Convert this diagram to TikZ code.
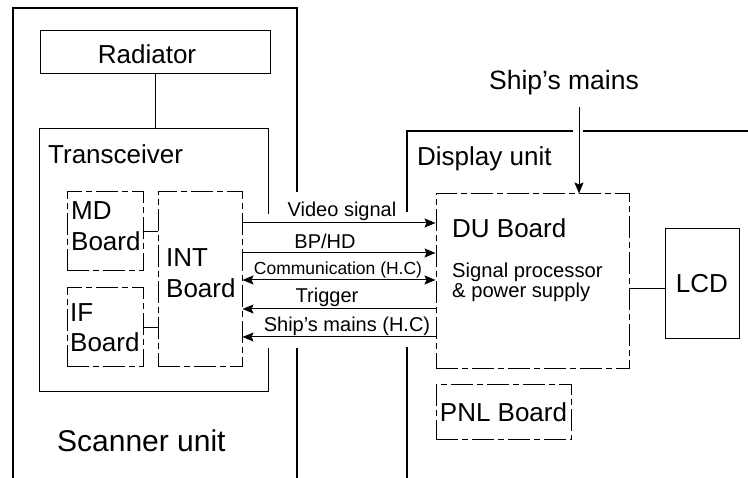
\documentclass[tikz,border=0pt]{standalone}
\usepackage{fontspec}
\setmainfont{Liberation Sans}
\usetikzlibrary{arrows.meta}
\begin{document}
\begin{tikzpicture}[x=1pt,y=-1pt,
  unitline/.style={line width=2.3pt},
  thinline/.style={line width=1pt},
  boxnode/.style={draw, line width=1pt, inner sep=0pt},
  boardnode/.style={draw, line width=1pt, inner sep=0pt, dash pattern=on 22pt off 4pt on 6pt off 4pt},
  sigline/.style={line width=1pt},
  >={Stealth[length=11pt,width=9pt,inset=2pt]},
  bigtxt/.style={font=\fontsize{26}{31}\selectfont, inner sep=0pt},
  scantxt/.style={font=\fontsize{30}{35}\selectfont, inner sep=0pt},
  mainstxt/.style={font=\fontsize{26.5}{31}\selectfont, inner sep=0pt},
  midtxt/.style={font=\fontsize{20}{24}\selectfont, inner sep=0pt},
  smalltxt/.style={font=\fontsize{17.5}{21}\selectfont, inner sep=0pt},
  dutxt/.style={font=\fontsize{20.2}{21}\selectfont, inner sep=0pt}
]
\useasboundingbox (0,0) rectangle (748,478);

% Scanner unit outline
\coordinate (scA) at (297,192);
\coordinate (scB) at (297,8);
\coordinate (scC) at (13,8);
\coordinate (scD) at (13,478);
\coordinate (scE) at (297,348);
\coordinate (scF) at (297,478);
\draw[unitline] (scA) -- (scB) -- (scC) -- (scD);
\draw[unitline] (scE) -- (scF);

% Display unit outline
\coordinate (duA) at (407,212);
\coordinate (duB) at (407,131);
\coordinate (duC) at (573,131);
\coordinate (duD) at (583,131);
\coordinate (duE) at (748,131);
\coordinate (duF) at (407,347);
\coordinate (duG) at (407,478);
\draw[unitline] (duA) -- (duB) -- (duC);
\draw[unitline] (duD) -- (duE);
\draw[unitline] (duF) -- (duG);

% Transceiver outline
\coordinate (trA) at (268,214);
\coordinate (trB) at (268,129);
\coordinate (trC) at (39,129);
\coordinate (trD) at (39,392);
\coordinate (trE) at (268,392);
\coordinate (trF) at (268,348);
\draw[thinline] (trA) -- (trB) -- (trC) -- (trD) -- (trE) -- (trF);

% Radiator
\node[boxnode, minimum width=230pt, minimum height=43pt] (rad) at (155,52.5) {};
\node[bigtxt, anchor=base] (radt) at (147,63.5) {Radiator};
\draw[thinline] (rad.south) -- (rad.south |- trC);

% Labels of units
\node[bigtxt, anchor=base west] (trt) at (48,164) {Transceiver};
\node[scantxt, anchor=base west] (sct) at (57,452) {Scanner unit};
\node[bigtxt, anchor=base west] (dut) at (417,166) {Display unit};

% Boards in transceiver
\node[boardnode, minimum width=76pt, minimum height=79pt] (md) at (105,231.5) {};
\node[boardnode, minimum width=76pt, minimum height=79pt] (if) at (105,327.5) {};
\node[boardnode, minimum width=84pt, minimum height=175pt] (int) at (200,279.5) {};
\node[bigtxt, anchor=base west] (mdt1) at (71,220) {MD};
\node[bigtxt, anchor=base west] (mdt2) at (71,251) {Board};
\node[bigtxt, anchor=base west] (ift1) at (70,322) {IF};
\node[bigtxt, anchor=base west] (ift2) at (70,352) {Board};
\node[bigtxt, anchor=base west] (intt1) at (166,267) {INT};
\node[bigtxt, anchor=base west] (intt2) at (166,298) {Board};
\draw[thinline] (md.east) -- (md.east -| int.west);
\draw[thinline] (if.east) -- (if.east -| int.west);

% DU board, LCD, PNL
\node[boardnode, minimum width=193pt, minimum height=175pt] (du) at (532.5,281.5) {};
\node[bigtxt, anchor=base west] (dut1) at (452,238) {DU Board};
\node[dutxt, anchor=base west] (dut2) at (452,278) {Signal processor};
\node[dutxt, anchor=base west] (dut3) at (452,298) {\& power supply};
\node[boxnode, minimum width=74pt, minimum height=110pt, font=\fontsize{26}{31}\selectfont] (lcd) at (702,284) {LCD};
\coordinate (lcdin) at (665,289);
\draw[thinline] (du.east |- lcdin) -- (lcdin);
\node[boardnode, minimum width=135pt, minimum height=55pt, font=\fontsize{26}{31}\selectfont] (pnl) at (503.5,412.5) {PNL Board};

% Ship's mains input
\node[mainstxt, anchor=base] (smt) at (564,90) {Ship’s mains};
\coordinate (smtail) at (579,107);
\draw[sigline,->] (smtail) -- (smtail |- du.north);

% Signal arrows between INT and DU
\coordinate (y1) at (0,223);
\coordinate (y2) at (0,253);
\coordinate (y3) at (0,280);
\coordinate (y4) at (0,309);
\coordinate (y5) at (0,337);
\draw[sigline,->] (int.east |- y1) -- (du.west |- y1);
\draw[sigline,->] (int.east |- y2) -- (du.west |- y2);
\draw[sigline,<->] (int.east |- y3) -- (du.west |- y3);
\draw[sigline,->] (du.west |- y4) -- (int.east |- y4);
\draw[sigline,->] (du.west |- y5) -- (int.east |- y5);
\node[midtxt, anchor=base] (l1) at (342,217) {Video signal};
\node[midtxt, anchor=base] (l2) at (325,249) {BP/HD};
\node[smalltxt, anchor=base] (l3) at (338,275) {Communication (H.C)};
\node[midtxt, anchor=base] (l4) at (327,303) {Trigger};
\node[midtxt, anchor=base] (l5) at (347,332) {Ship’s mains (H.C)};
\end{tikzpicture}
\end{document}
